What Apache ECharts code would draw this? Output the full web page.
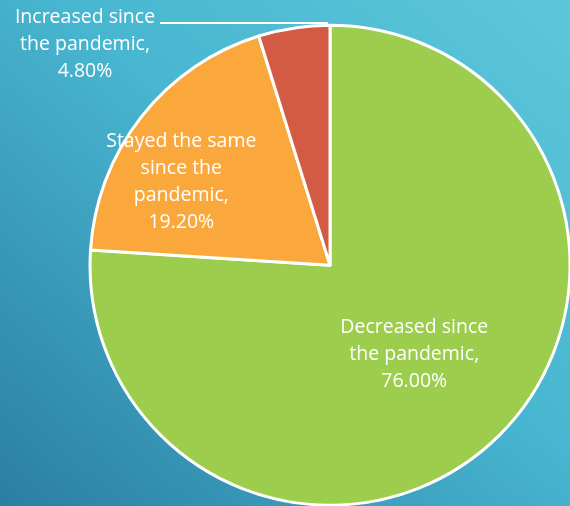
<!DOCTYPE html>
<html>
<head>
<meta charset="utf-8">
<script src="https://cdn.jsdelivr.net/npm/echarts@6/dist/echarts.min.js"></script>
<style>
  html, body { margin: 0; padding: 0; }
  #chart {
    width: 570px; height: 506px;
    background: linear-gradient(to bottom left, #5dc7da 0%, #48b6d0 45%, #2b7ea2 100%);
  }
</style>
</head>
<body>
<div id="chart"></div>
<script>
// Share of respondents by change since the pandemic
const categories = [
  'Decreased since\nthe pandemic',
  'Stayed the same\nsince the\npandemic',
  'Increased since\nthe pandemic'
];
const shares = [76.0, 19.2, 4.8];
const sliceColors = ['#9ccd4c', '#faa83c', '#d45b43'];

const chart = echarts.init(document.getElementById('chart'), null, { renderer: 'canvas' });

const labelFont = {
  color: '#ffffff',
  fontFamily: 'Open Sans',
  fontSize: 19.5,
  lineHeight: 27,
  align: 'center'
};

chart.setOption({
  backgroundColor: 'transparent',
  animation: false,
  series: [{
    type: 'pie',
    center: ['57.9%', '52.4%'],
    radius: 240,
    startAngle: 90,
    clockwise: true,
    avoidLabelOverlap: false,
    itemStyle: { borderColor: '#ffffff', borderWidth: 3 },
    label: Object.assign({
      show: true,
      position: 'inside',
      formatter: p => p.name + ',\n' + p.value.toFixed(2) + '%'
    }, labelFont),
    labelLine: { show: false },
    data: categories.map((name, i) => {
      const item = { name: name, value: shares[i], itemStyle: { color: sliceColors[i] } };
      if (i === 2) {
        item.label = Object.assign({ position: 'outside' }, labelFont);
        item.labelLine = {
          show: true,
          lineStyle: { color: '#ffffff', width: 2 }
        };
      }
      return item;
    }),
    labelLayout: function (params) {
      if (params.dataIndex === 1) {
        return { dx: -52, dy: -7 };
      }
      if (params.dataIndex === 2) {
        return {
          x: 85,
          y: 44,
          align: 'center',
          verticalAlign: 'middle',
          labelLinePoints: [[328, 23], [160, 23]]
        };
      }
      return {};
    }
  }]
});
</script>
</body>
</html>
